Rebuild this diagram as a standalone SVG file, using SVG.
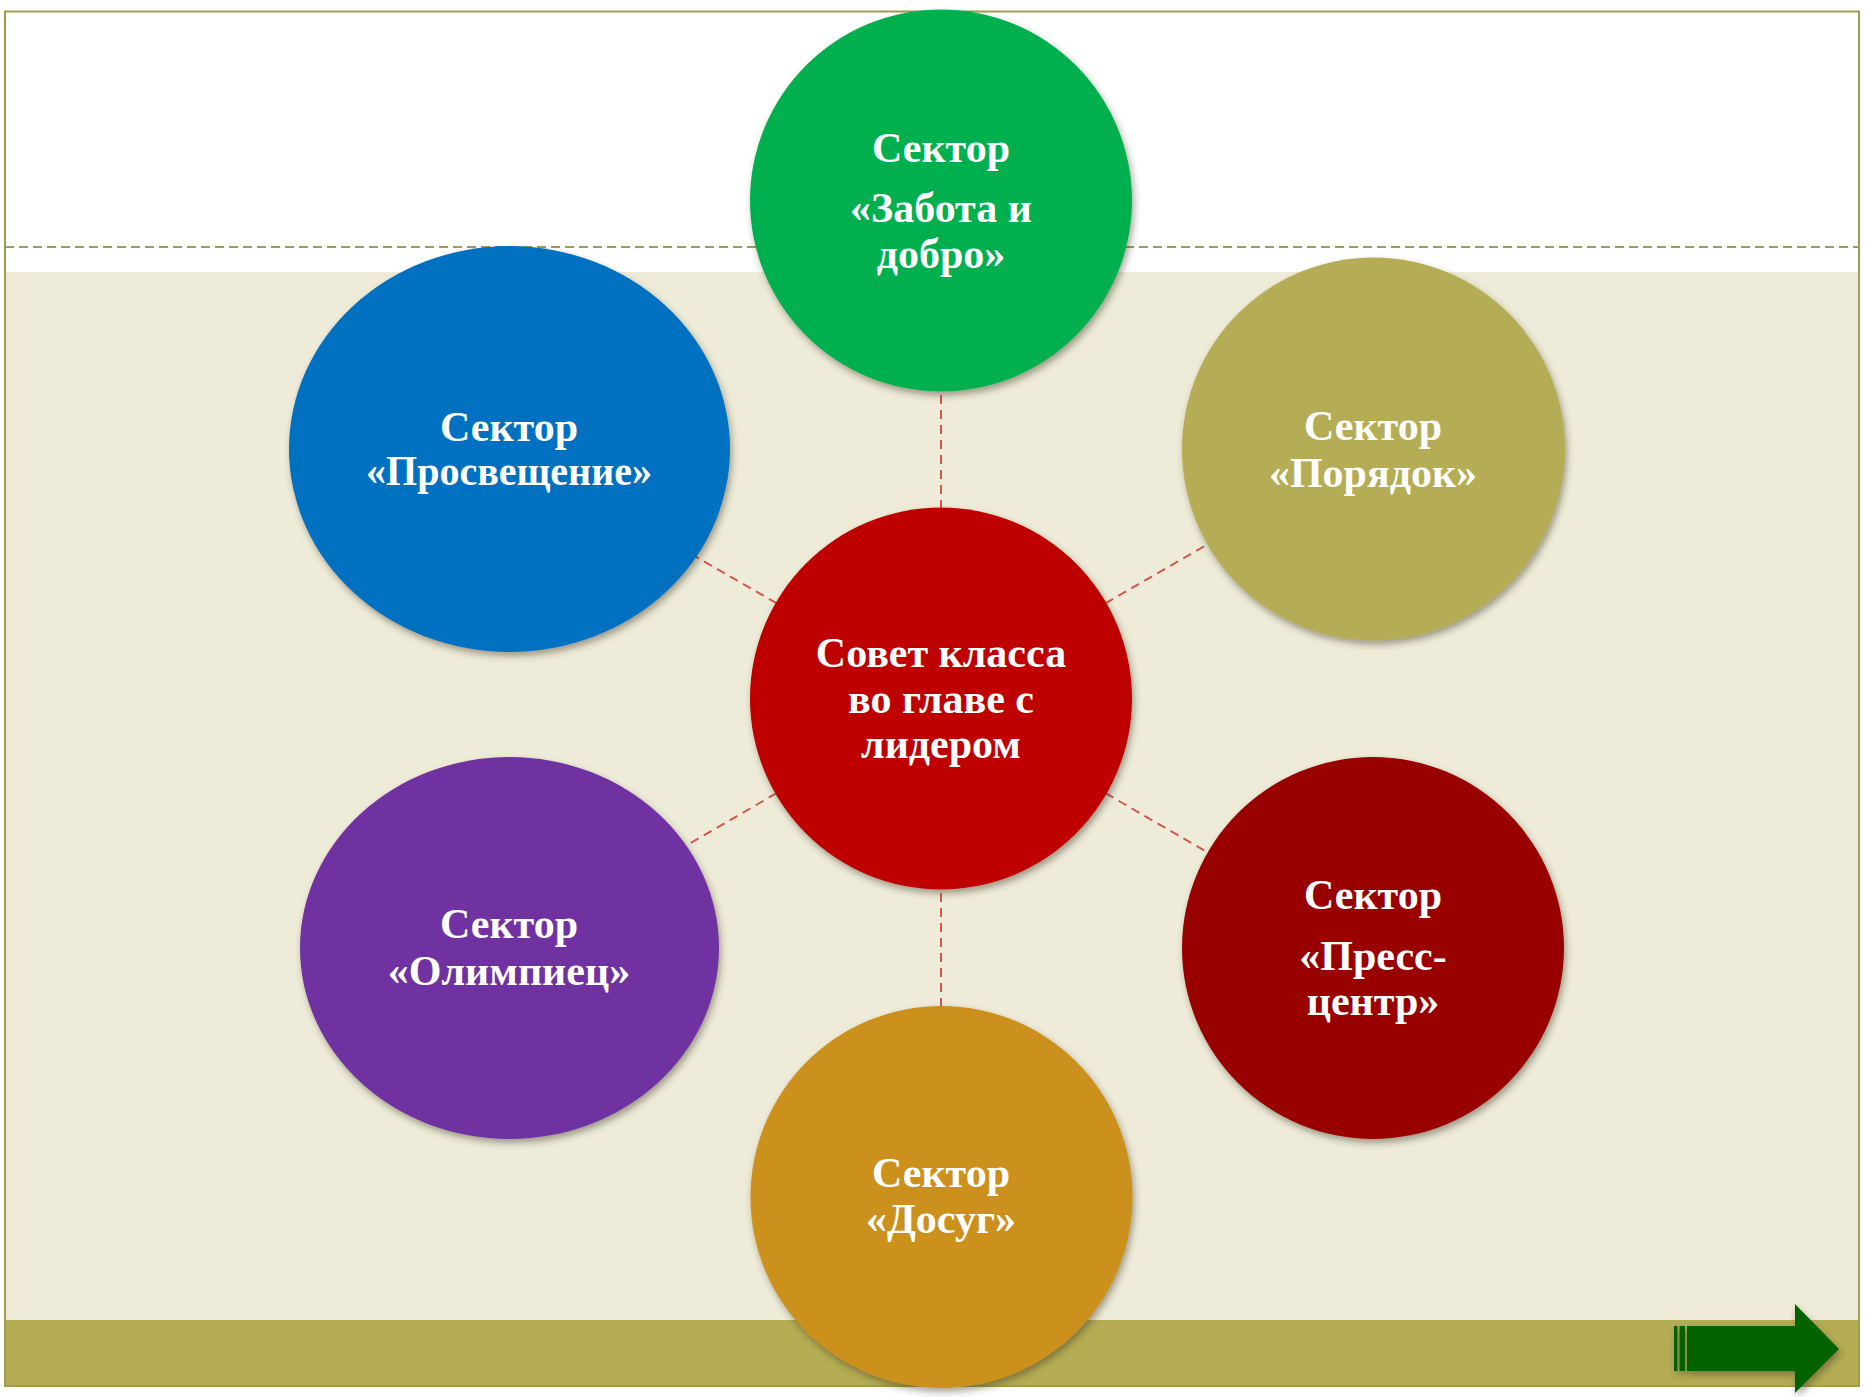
<svg xmlns="http://www.w3.org/2000/svg" width="1865" height="1397" viewBox="0 0 1865 1397">
<defs>
<filter id="sh" x="-10%" y="-10%" width="125%" height="125%">
<feDropShadow dx="2" dy="4" stdDeviation="3.5" flood-color="#3a3520" flood-opacity="0.45"/>
</filter>
<style>
.lbl{font-family:"Liberation Serif","Times New Roman",serif;font-weight:bold;font-size:42px;fill:#ffffff;text-anchor:middle}
.conn{stroke:#d0584a;stroke-width:2;stroke-dasharray:9 6;fill:none}
</style>
</defs>
<rect x="0" y="0" width="1865" height="1397" fill="#ffffff"/>
<rect x="5" y="272" width="1854" height="1048" fill="#eeecd9"/>
<rect x="5" y="1320" width="1854" height="66" fill="#b5ad54"/>
<line x1="5" y1="247" x2="1859" y2="247" stroke="#a39b50" stroke-width="2.2" stroke-dasharray="9 5"/>
<rect x="5" y="11.5" width="1854" height="1374.5" fill="none" stroke="#a39b50" stroke-width="2"/>
<g id="connectors">
<line class="conn" x1="941" y1="200" x2="941" y2="698"/>
<line class="conn" x1="941" y1="698" x2="941" y2="1197"/>
<line class="conn" x1="509" y1="449" x2="941" y2="698"/>
<line class="conn" x1="1373" y1="449" x2="941" y2="698"/>
<line class="conn" x1="509" y1="948" x2="941" y2="698"/>
<line class="conn" x1="1373" y1="948" x2="941" y2="698"/>
</g>
<g id="node-center">
<circle cx="941" cy="698.5" r="191" fill="#be0000" filter="url(#sh)"/>
<text class="lbl" x="941" y="667">Совет класса</text>
<text class="lbl" x="941" y="713">во главе с</text>
<text class="lbl" x="941" y="758">лидером</text>
</g>
<g id="node-zabota">
<circle cx="941" cy="200.5" r="191" fill="#00b050" filter="url(#sh)"/>
<text class="lbl" x="941" y="162">Сектор</text>
<text class="lbl" x="941" y="222">«Забота и</text>
<text class="lbl" x="941" y="268">добро»</text>
</g>
<g id="node-prosveshchenie">
<ellipse cx="509.5" cy="449" rx="220.5" ry="203" fill="#0070c0" filter="url(#sh)"/>
<text class="lbl" x="509" y="441">Сектор</text>
<text class="lbl" x="509" y="485" textLength="286" lengthAdjust="spacingAndGlyphs">«Просвещение»</text>
</g>
<g id="node-poryadok">
<circle cx="1373.5" cy="449" r="191.5" fill="#b5ad54" filter="url(#sh)"/>
<text class="lbl" x="1373" y="440">Сектор</text>
<text class="lbl" x="1373" y="487">«Порядок»</text>
</g>
<g id="node-olimpiec">
<ellipse cx="509.5" cy="948" rx="209.5" ry="191" fill="#7030a0" filter="url(#sh)"/>
<text class="lbl" x="509" y="938">Сектор</text>
<text class="lbl" x="509" y="985">«Олимпиец»</text>
</g>
<g id="node-press">
<circle cx="1373" cy="948" r="191" fill="#990000" filter="url(#sh)"/>
<text class="lbl" x="1373" y="909">Сектор</text>
<text class="lbl" x="1373" y="970">«Пресс-</text>
<text class="lbl" x="1373" y="1015">центр»</text>
</g>
<g id="node-dosug">
<circle cx="941.5" cy="1197" r="191" fill="#cc901c" filter="url(#sh)"/>
<text class="lbl" x="941" y="1187">Сектор</text>
<text class="lbl" x="941" y="1233">«Досуг»</text>
</g>
<g id="nav-arrow" filter="url(#sh)" fill="#006400">
<rect x="1674" y="1326" width="3.5" height="45"/>
<rect x="1679.5" y="1326" width="5.5" height="45"/>
<polygon points="1687,1326 1795,1326 1795,1304 1839,1349 1795,1393 1795,1371 1687,1371"/>
</g>
</svg>
